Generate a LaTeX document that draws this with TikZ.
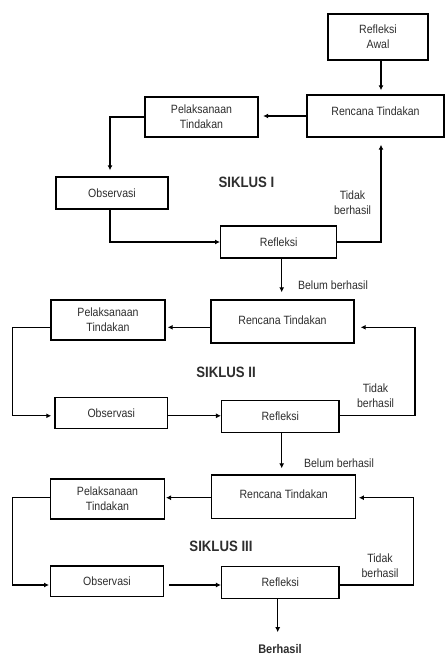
\documentclass[tikz,border=0pt]{standalone}
\usepackage{fontspec}
\setmainfont{Liberation Sans}[FakeStretch=0.88]
\usetikzlibrary{arrows.meta,calc}
\definecolor{txt}{HTML}{2E2E2E}
\begin{document}
\begin{tikzpicture}[x=1pt,y=-1pt,
 box/.style={draw=black, line width=1.4pt, inner sep=0pt, align=center, text=txt, font=\fontsize{12}{15}\selectfont},
 lbl/.style={text=txt, align=center, inner sep=0pt, font=\fontsize{12}{15}\selectfont},
 ttl/.style={text=txt, inner sep=0pt, font=\bfseries\fontsize{15}{18}\selectfont},
 arr/.style={draw=black, line width=1.2pt, -{Latex[length=5pt,width=5pt]}}]
\fill[white] (0,0) rectangle (445,655);
\useasboundingbox (0,0) rectangle (445,655);
% boxes
\node[box, minimum width=100pt, minimum height=46pt] (ra) at (378,37) {Refleksi\\Awal};
\node[box, minimum width=137pt, minimum height=42pt, text depth=9pt] (r1) at (375.5,116) {Rencana Tindakan};
\node[box, minimum width=113pt, minimum height=40pt] (p1) at (201.5,117) {Pelaksanaan\\Tindakan};
\node[box, minimum width=112pt, minimum height=32pt] (o1) at (112,193) {Observasi};
\node[box, minimum width=116pt, minimum height=32pt] (f1) at (278.7,242) {Refleksi};
\node[box, minimum width=143pt, minimum height=43pt, text depth=3pt] (r2) at (282.5,321.5) {Rencana Tindakan};
\node[box, minimum width=114pt, minimum height=40pt] (p2) at (108,320) {Pelaksanaan\\Tindakan};
\node[box, minimum width=112.7pt, minimum height=31pt] (o2) at (111.3,412.8) {Observasi};
\node[box, minimum width=117.3pt, minimum height=31.6pt] (f2) at (280.3,416.5) {Refleksi};
\node[box, minimum width=144pt, minimum height=43.3pt, text depth=6pt] (r3) at (283.7,496.7) {Rencana Tindakan};
\node[box, minimum width=113.6pt, minimum height=39.7pt] (p3) at (107.5,499) {Pelaksanaan\\Tindakan};
\node[box, minimum width=112.6pt, minimum height=30.7pt] (o3) at (107,581.3) {Observasi};
\node[box, minimum width=117.3pt, minimum height=31.6pt] (f3) at (280.3,582.5) {Refleksi};
% labels
\node[ttl] (s1) at (246.5,182) {SIKLUS I};
\node[ttl] (s2) at (226,372.5) {SIKLUS II};
\node[ttl] (s3) at (221,546) {SIKLUS III};
\node[lbl] (t1) at (352.5,203) {Tidak\\berhasil};
\node[lbl] (t2) at (375.5,396) {Tidak\\berhasil};
\node[lbl] (t3) at (380,565.5) {Tidak\\berhasil};
\node[lbl] (b1) at (333,285) {Belum berhasil};
\node[lbl] (b2) at (339,463) {Belum berhasil};
\node[ttl, font=\bfseries\fontsize{12.5}{15}\selectfont] (bh) at (280,649) {Berhasil};
% helper coordinates
\coordinate (rx1) at (381,0);
\coordinate (lx1) at (110,0);
\coordinate (dx1) at (281.7,0);
\coordinate (y2) at (0,327.3);
\coordinate (lx2) at (12.3,0);
\coordinate (y2b) at (0,415.8);
\coordinate (rx2) at (415,0);
\coordinate (y3) at (0,497.7);
\coordinate (y3b) at (0,585);
\coordinate (rx3) at (413.3,0);
\coordinate (dx3) at (277.7,0);
% cycle I
\draw[arr, shorten >=4pt] (ra.south -| rx1) -- (r1.north -| rx1);
\draw[arr, shorten >=4.5pt] (r1.west) -- (r1.west -| p1.east);
\draw[arr, shorten >=6pt] (p1.west) -| (lx1 |- o1.north);
\draw[arr] (o1.south -| lx1) |- (f1.west);
\draw[arr, shorten >=7pt] (f1.east) -| (r1.south -| rx1);
\draw[arr, shorten >=7pt] (f1.south -| dx1) -- (r2.north -| dx1);
% cycle II
\draw[arr, shorten >=2pt] (r2.west |- y2) -- (p2.east |- y2);
\draw[arr, shorten >=3pt] (p2.west |- y2) -| (lx2 |- y2b) -- (o2.west |- y2b);
\draw[arr] (o2.east |- y2b) -- (f2.west |- y2b);
\draw[arr, shorten >=6pt] (f2.east |- y2b) -| (rx2 |- y2) -- (r2.east |- y2);
\draw[arr, shorten >=6pt] (f2.south -| dx1) -- (r3.north -| dx1);
% cycle III
\draw[arr, shorten >=1pt] (r3.west |- y3) -- (p3.east |- y3);
\draw[arr, shorten >=1pt] (p3.west |- y3) -| (lx2 |- y3b) -- (o3.west |- y3b);
\draw[arr, shorten <=5pt] (o3.east |- y3b) -- (f3.west |- y3b);
\draw[arr, shorten >=2.5pt] (f3.east |- y3b) -| (rx3 |- y3) -- (r3.east |- y3);
\draw[arr, shorten >=12pt] (f3.south -| dx3) -- (bh.north -| dx3);
\end{tikzpicture}
\end{document}
